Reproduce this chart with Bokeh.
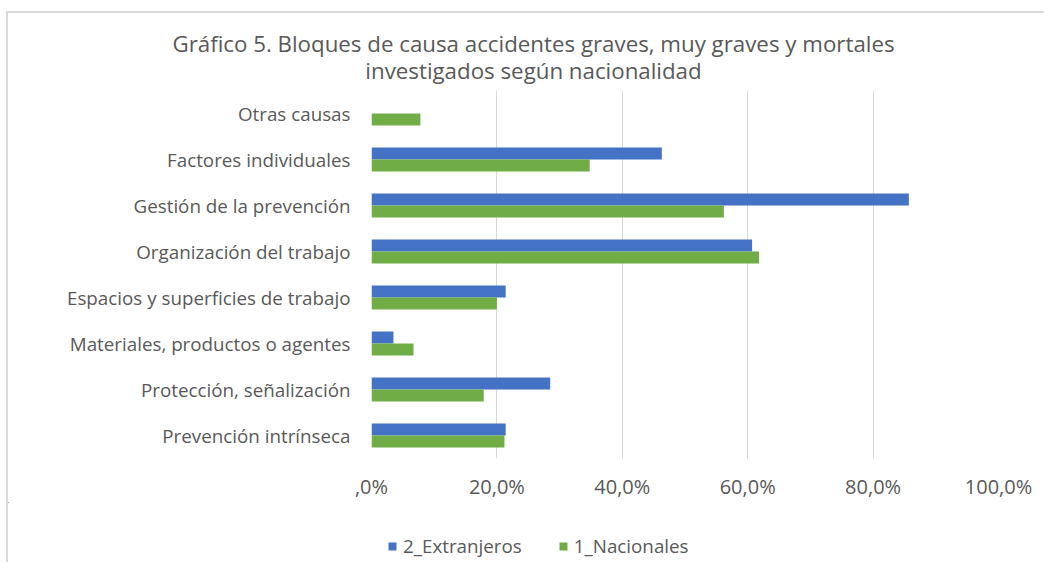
from bokeh.plotting import figure
from bokeh.layouts import column
from bokeh.models import (FactorRange, Range1d, Label, Legend, LegendItem,
                          ColumnDataSource, FixedTicker)
from bokeh.transform import dodge
from bokeh.embed import file_html
from bokeh.resources import INLINE

categories = ["Otras causas", "Factores individuales", "Gestión de la prevención",
              "Organización del trabajo", "Espacios y superficies de trabajo",
              "Materiales, productos o agentes", "Protección, señalización",
              "Prevención intrínseca"]
extranjeros = [0.0, 46.3, 85.7, 60.7, 21.4, 3.5, 28.5, 21.4]
nacionales = [7.8, 34.8, 56.2, 61.8, 20.0, 6.7, 17.9, 21.2]
x_ticks = [0, 20, 40, 60, 80, 100]
x_tick_labels = [",0%", "20,0%", "40,0%", "60,0%", "80,0%", "100,0%"]
series_names = ["2_Extranjeros", "1_Nacionales"]
title_lines = ["Gráfico 5. Bloques de causa accidentes graves, muy graves y mortales",
               "investigados según nacionalidad"]

FONT = "Open Sans"
GREY = "#595959"
BLUE = "#4472C4"
GREEN = "#70AD47"
W = 1036


def blank(fig):
    fig.axis.visible = False
    fig.grid.grid_line_color = None
    fig.outline_line_color = None
    return fig


src = ColumnDataSource(dict(cat=categories, ext=extranjeros, nac=nacionales))

# ---- header with the two-line title
HH = 77
head = blank(figure(width=W, height=HH, output_backend="svg", toolbar_location=None,
                    x_range=Range1d(0, 1), y_range=Range1d(0, 1), frame_align=False,
                    min_border=0, min_border_left=0, min_border_right=0,
                    min_border_top=0, min_border_bottom=0))
for line, ys in zip(title_lines, [HH - 30, HH - 57]):
    head.add_layout(Label(x=525, y=ys, x_units="screen", y_units="screen", text=line,
                          text_align="center", text_baseline="middle", text_font=FONT,
                          text_font_size="22.3px", text_color=GREY))

# ---- main chart
MH = 412
p = figure(width=W, height=MH, output_backend="svg", toolbar_location=None,
           y_range=FactorRange(factors=list(reversed(categories))),
           x_range=Range1d(0, 100), frame_align=False,
           min_border_left=363, min_border_right=46, min_border_top=0, min_border_bottom=40)

r_ext = p.hbar(y=dodge("cat", 0.13, range=p.y_range), right="ext", left=0, height=0.26,
               source=src, fill_color=BLUE, line_color=None)
r_nac = p.hbar(y=dodge("cat", -0.13, range=p.y_range), right="nac", left=0, height=0.26,
               source=src, fill_color=GREEN, line_color=None)

p.outline_line_color = None
p.ygrid.grid_line_color = None
p.xgrid.grid_line_color = "#d9d9d9"
p.xgrid.grid_line_width = 1

p.xaxis.ticker = FixedTicker(ticks=x_ticks)
p.xaxis.major_label_overrides = {t: l for t, l in zip(x_ticks, x_tick_labels)}
p.xaxis.axis_line_color = None
p.xaxis.major_tick_line_color = None
p.xaxis.minor_tick_line_color = None
p.xaxis.major_tick_out = 0
p.xaxis.minor_tick_out = 0
p.xaxis.major_label_standoff = 14
p.xaxis.major_label_text_font = FONT
p.xaxis.major_label_text_font_size = "20px"
p.xaxis.major_label_text_color = GREY

p.yaxis.axis_line_color = None
p.yaxis.major_tick_line_color = None
p.yaxis.minor_tick_line_color = None
p.yaxis.major_tick_out = 0
p.yaxis.minor_tick_out = 0
p.yaxis.major_label_standoff = 21
p.yaxis.major_label_text_font = FONT
p.yaxis.major_label_text_font_size = "18.8px"
p.yaxis.major_label_text_color = GREY

# ---- legend strip (its key bars use the same data, kept entirely outside the strip's view)
LH = 60
leg = blank(figure(width=W, height=LH, output_backend="svg", toolbar_location=None,
                   x_range=Range1d(200, 201), y_range=Range1d(-3, -2), frame_align=False,
                   min_border=0, min_border_left=0, min_border_right=0,
                   min_border_top=0, min_border_bottom=0))
k_ext = leg.hbar(y="ext", right="ext", left=0, height=0.26, source=src,
                 fill_color=BLUE, line_color=None)
k_nac = leg.hbar(y="nac", right="nac", left=0, height=0.26, source=src,
                 fill_color=GREEN, line_color=None)
legend = Legend(items=[LegendItem(label=series_names[0], renderers=[k_ext]),
                       LegendItem(label=series_names[1], renderers=[k_nac])],
                orientation="horizontal", location=(379, 3), padding=0, margin=0,
                spacing=36, glyph_width=10, glyph_height=10, label_standoff=6,
                label_text_font=FONT, label_text_font_size="18.8px", label_text_color=GREY,
                border_line_color=None, background_fill_alpha=0)
leg.add_layout(legend, "center")

page = column(head, p, leg, spacing=0)
page.styles = {"margin-left": "6px", "margin-top": "11px",
               "border-top": "2px solid #d9d9d9", "border-left": "2px solid #d9d9d9"}

open("out.html", "w").write(file_html(page, INLINE))
